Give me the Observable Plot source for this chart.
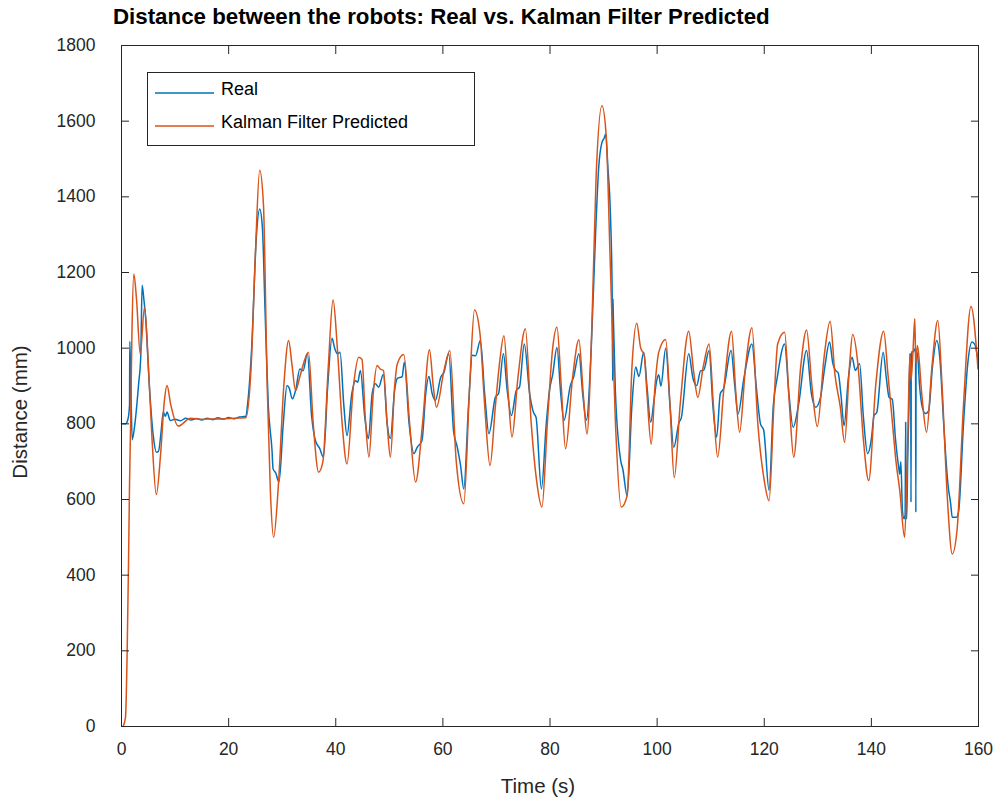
<!DOCTYPE html>
<html>
<head>
<meta charset="utf-8">
<script src="https://cdn.jsdelivr.net/npm/d3@7"></script>
<script src="https://cdn.jsdelivr.net/npm/@observablehq/plot@0.6"></script>
<style>
  body { margin: 0; background: #fff; }
  #wrap { position: relative; width: 993px; height: 801px; font-family: "Liberation Sans", Arial, sans-serif; }
  #title { position: absolute; left: 113px; top: 6px; font-weight: bold; font-size: 22.3px; line-height: 1; color: #000; white-space: nowrap; }
  #legend { position: absolute; left: 147px; top: 72px; }
</style>
</head>
<body>
<div id="wrap">
  <div id="chart"></div>
  <div id="title">Distance between the robots: Real vs. Kalman Filter Predicted</div>
  <svg id="legend" width="329" height="75"></svg>
</div>
<script>
// ---- tick labels ----
const xTicks = [0, 20, 40, 60, 80, 100, 120, 140, 160];
const xTickLabels = ["0", "20", "40", "60", "80", "100", "120", "140", "160"];
const yTicks = [0, 200, 400, 600, 800, 1000, 1200, 1400, 1600, 1800];
const yTickLabels = ["0", "200", "400", "600", "800", "1000", "1200", "1400", "1600", "1800"];
const seriesNames = ["Real", "Kalman Filter Predicted"];

// ---- Real distance (time s, distance mm) ----
const realT = [0,0.75,1.2,1.5,1.55,1.75,2.0,2.5,3.2,3.6,3.85,4.2,4.5,5.2,6.0,6.5,6.9,7.4,7.8,8.2,8.5,9.1,10,11,12,13,14,15,16,17,18,19,20,21,22,23.2,23.6,24.3,25.2,25.8,26.3,26.8,27.4,28.1,28.3,28.8,29.4,30.2,30.9,31.3,31.9,32.5,33.3,33.9,34.7,35.5,36.2,37,37.7,38.5,39.3,39.8,40.3,40.8,41.5,42.1,43,43.7,44.1,44.6,45.4,46.1,46.8,47.4,48,48.9,49.6,50.2,51,51.5,52.4,52.8,53.7,54.6,55.2,56.1,56.8,57.4,58.0,58.6,59.6,60.2,61.1,62,62.7,63.3,63.9,64.8,65.5,66.1,67.0,67.8,68.6,69.8,70.4,71.3,72.0,72.8,73.7,74.3,75.2,76.2,76.9,77.4,78.4,79.3,79.9,80.5,81.3,82.0,82.6,83.8,84.4,85.4,86.1,86.8,87.7,88.5,89.1,89.7,90.1,90.4,90.8,91.3,91.6,91.7,91.75,91.8,92.2,93.2,93.6,94.4,95.3,96.0,96.6,97.5,98.1,98.8,99.4,99.9,100.3,100.7,101.6,102.4,103.1,104.1,104.5,105.9,106.7,107.4,108.1,108.7,109.7,110.4,111.1,111.8,112.4,113.8,114.5,115.1,116.2,117.7,118.5,119.3,119.9,120.9,121.7,122.4,123.8,124.6,125.4,126.4,127.9,128.8,129.6,130.5,131.3,132.2,132.8,133.3,133.8,134.3,134.9,135.7,136.4,137.0,137.8,138.5,139.3,140.0,140.5,141.0,142.2,142.8,143.3,143.9,144.5,145.1,145.3,145.5,145.8,146.1,146.3,146.4,146.5,146.6,146.8,147.0,147.2,147.35,147.4,147.45,147.8,148.1,148.25,148.3,148.35,148.6,149.0,149.5,150.1,150.7,151.4,152.2,152.8,153.5,154.3,154.8,155.1,155.9,156.3,157.2,158.0,158.8,159.3,159.9];
const realV = [800,800,812,850,1018,900,758,800,906,980,1166,1126,1082,900,760,725,727,780,831,820,831,809,812,808,815,810,814,810,815,811,816,812,817,813,818,820,860,1000,1300,1368,1320,1100,850,730,681,670,646,800,901,895,866,888,945,940,985,820,756,735,712,900,1026,1000,985,989,850,769,880,914,910,941,820,761,880,906,897,931,800,761,890,920,925,963,800,721,738,756,880,925,880,862,923,936,985,780,738,690,628,850,981,980,1020,880,774,870,880,985,890,822,888,897,1011,880,831,817,628,800,888,930,1002,880,809,901,923,985,880,810,1000,1300,1479,1544,1555,1566,1480,1346,1153,914,1130,1100,888,703,680,610,850,950,925,989,900,804,860,913,930,900,1000,850,738,804,815,985,920,901,940,942,994,850,765,880,893,994,900,826,920,1011,900,800,783,624,850,920,1011,880,791,850,994,880,844,870,950,1016,960,941,935,880,795,920,976,941,959,820,721,760,822,830,989,920,870,865,760,685,667,700,571,549,560,804,560,549,720,835,985,980,593,990,990,998,990,566,990,985,900,844,827,835,950,1020,970,800,640,589,553,553,570,800,960,1016,1010,970];

// ---- Kalman filter predicted distance ----
const kfT = [0.3,0.75,1.06,1.3,1.5,1.7,1.95,2.3,2.8,3.5,4.3,5.0,5.7,6.5,7.3,8.0,8.5,9.2,10.6,12.9,15,17,19,21,23.2,24.2,25,25.8,26.5,27.2,27.8,28.4,29.3,30.3,31.2,31.8,32.5,33.4,34.9,35.8,36.8,37.6,38.6,39.5,40.3,41.2,42.1,43.3,44.3,44.9,45.5,46.2,47,47.7,48.3,48.9,49.6,50.2,51.0,51.5,52.7,53.8,54.9,56.2,57.5,58.2,58.8,60.2,61.3,62.5,63.9,65.0,65.9,66.9,67.8,68.8,69.8,70.5,71.4,72.2,72.9,74,75.4,76.5,77.5,78.5,79.5,80.5,81.3,82.1,82.9,84.2,85.4,86.2,86.9,87.8,88.6,89.7,90.5,91.2,92.2,93.3,94.4,95.3,96.2,96.9,97.6,98.1,98.9,99.6,100.3,101.6,102.4,103.2,104.3,105.9,106.8,107.6,108.6,109.7,110.5,111.3,112.5,113.9,114.7,115.4,116.5,117.7,118.8,120.0,120.9,121.8,122.5,123.8,124.7,125.5,126.8,127.9,128.9,129.9,131.2,132.3,133.2,134.2,135.0,135.9,136.5,137.5,138.5,139.5,140.8,142.3,143.1,143.9,144.6,145.3,146.2,146.7,147.2,147.4,147.8,148.1,148.3,148.6,149.4,150.3,151.3,152.4,153.2,154.2,155.1,156,157.2,158.6,159.9];
const kfV = [0,25,200,420,640,800,1040,1196,1130,985,1108,960,760,613,720,860,901,850,794,815,812,813,813,815,816,950,1250,1470,1380,900,620,500,640,900,1020,960,888,930,989,800,672,700,950,1128,1000,800,694,900,976,970,820,712,880,954,945,941,800,712,900,959,983,800,646,800,996,900,844,940,994,700,589,900,1101,1042,850,690,846,950,1033,880,765,920,1051,800,650,580,800,1000,1055,900,734,920,1022,880,773,1050,1450,1641,1560,1250,809,580,610,950,1066,1002,980,880,746,900,989,1023,850,658,850,1045,940,870,950,1011,850,712,900,1045,880,778,950,1054,800,650,597,850,1011,1042,850,712,950,1048,900,793,980,1071,930,844,751,950,1036,955,760,650,900,1045,930,808,700,624,500,700,985,914,1000,1078,960,1007,880,778,950,1073,900,600,456,520,850,1110,945];

const colors = ["#0072BD", "#D95319"];
const real = realT.map((t, i) => ({t, v: realV[i]}));
const kf = kfT.map((t, i) => ({t, v: kfV[i]}));

const axisColor = "#262626";
const chart = Plot.plot({
  width: 993,
  height: 801,
  marginLeft: 121,
  marginRight: 15,
  marginTop: 45,
  marginBottom: 75,
  style: {fontFamily: "'Liberation Sans', Arial, sans-serif", fontSize: "17.5px", color: axisColor, background: "#fff"},
  x: {domain: [0, 160]},
  y: {domain: [0, 1800]},
  marks: [
    Plot.line(real, {x: "t", y: "v", stroke: colors[0], strokeWidth: 1.5, curve: "monotone-x"}),
    Plot.line(kf, {x: "t", y: "v", stroke: colors[1], strokeWidth: 1.5, curve: "monotone-x"}),
    Plot.frame({stroke: axisColor, strokeWidth: 1}),
    Plot.axisX(xTicks, {anchor: "bottom", tickSize: -8, tickPadding: 24, label: null, stroke: axisColor, tickFormat: (d, i) => xTickLabels[i]}),
    Plot.axisX(xTicks, {anchor: "top", tickSize: -8, fill: "none", label: null, stroke: axisColor}),
    Plot.axisY(yTicks, {anchor: "left", tickSize: -8, tickPadding: 34, label: null, stroke: axisColor, tickFormat: (d, i) => yTickLabels[i]}),
    Plot.axisY(yTicks, {anchor: "right", tickSize: -8, fill: "none", label: null, stroke: axisColor}),
    Plot.text(["Time (s)"], {frameAnchor: "bottom", textAnchor: "middle", dx: -12, dy: 66, fontSize: 20.5, fill: axisColor}),
    Plot.text(["Distance (mm)"], {frameAnchor: "left", textAnchor: "middle", lineAnchor: "middle", dx: -101, dy: 26, rotate: -90, fontSize: 20.5, fill: axisColor})
  ]
});
document.getElementById("chart").appendChild(chart);

// ---- legend ----
const leg = d3.select("#legend");
leg.append("rect").attr("x", 0.5).attr("y", 0.5).attr("width", 327).attr("height", 73)
  .attr("fill", "#fff").attr("stroke", axisColor).attr("stroke-width", 1);
const rowsY = [21, 54];
seriesNames.forEach((name, i) => {
  leg.append("line").attr("x1", 8).attr("x2", 67).attr("y1", rowsY[i]).attr("y2", rowsY[i])
    .attr("stroke", colors[i]).attr("stroke-width", 1.5);
  leg.append("text").attr("x", 74).attr("y", rowsY[i] + 2).text(name)
    .attr("font-family", "'Liberation Sans', Arial, sans-serif").attr("font-size", 18).attr("fill", "#000");
});
</script>
</body>
</html>
